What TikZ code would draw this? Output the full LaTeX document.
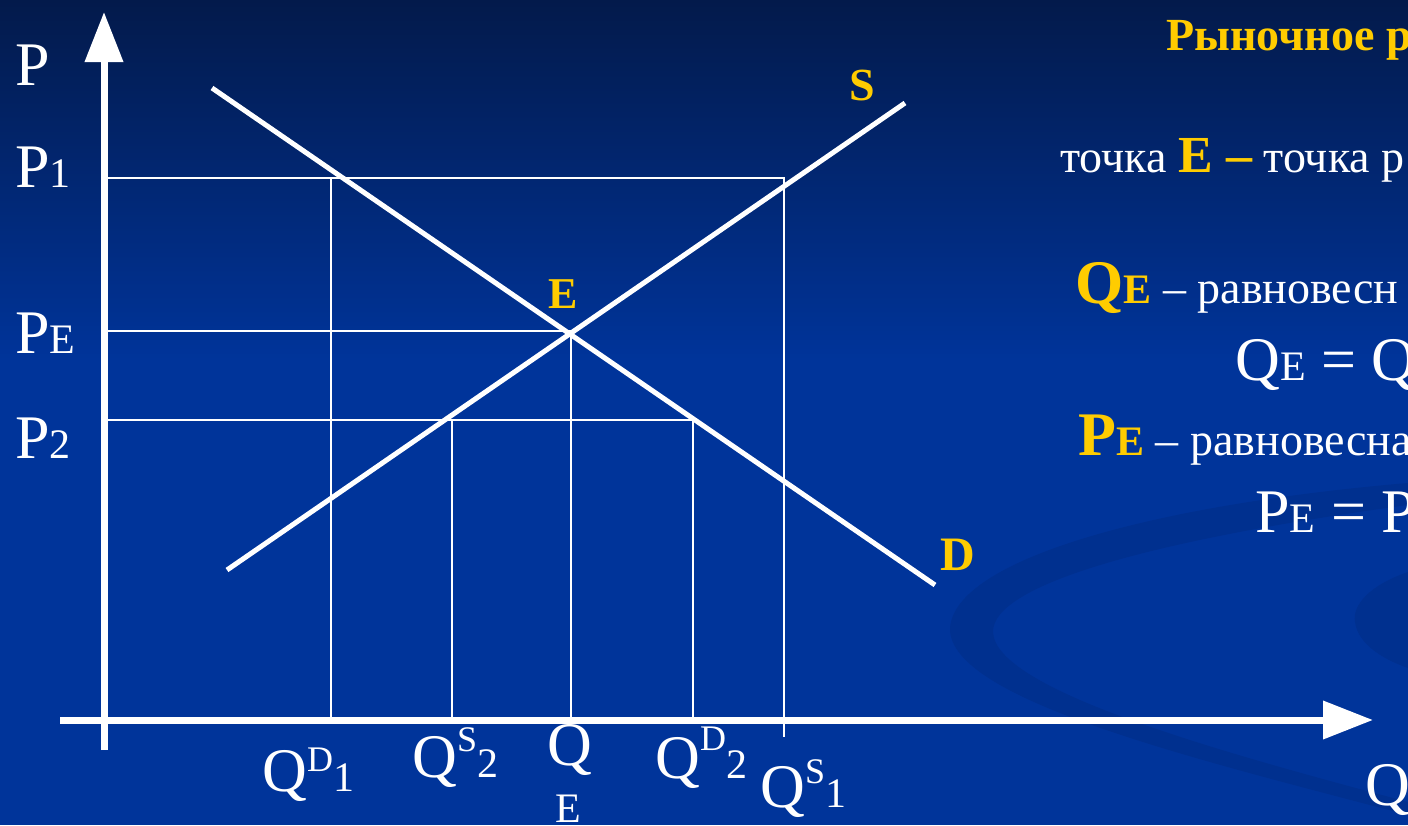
\documentclass[tikz,border=0pt]{standalone}
\usepackage{fontspec}
\setmainfont{Liberation Serif}
\usetikzlibrary{arrows.meta,positioning}
\definecolor{slidetop}{HTML}{031A4B}
\definecolor{slideblue}{HTML}{00349A}
\definecolor{swirl}{HTML}{00308F}
\definecolor{accent}{HTML}{FFCC00}
% small index at the baseline, small raised index
\newcommand{\idx}[1]{{\fontsize{21}{24}\selectfont #1}}
\newcommand{\upidx}[2][12pt]{\raisebox{#1}{\fontsize{18}{20}\selectfont #2}}

\begin{document}
\begin{tikzpicture}[x=0.5pt,y=-0.5pt,
  axis/.style={white,line width=3.5pt,-{Triangle[length=25pt,width=18.5pt]}},
  curve/.style={white,line width=2.5pt},
  guide/.style={white,line width=1pt},
  lbl/.style={text=white,font=\fontsize{31}{36}\selectfont,inner sep=0pt,anchor=base west},
  tag/.style={text=accent,font=\bfseries\fontsize{23}{28}\selectfont,inner sep=0pt,anchor=base west},
  txt/.style={text=white,font=\fontsize{23}{28}\selectfont,inner sep=0pt,anchor=base west}]
\useasboundingbox (0,0) rectangle (1408,825);
% background
\shade[top color=slidetop,bottom color=slideblue] (0,0) rectangle (1408,360);
\fill[slideblue] (0,359) rectangle (1408,825);
\fill[swirl] (1408,483) .. controls (1150,505) and (955,560) .. (950,628)
  .. controls (948,700) and (1200,760) .. (1408,815) -- (1408,802)
  .. controls (1220,752) and (995,690) .. (993,632)
  .. controls (992,585) and (1150,540) .. (1408,505) -- cycle;
\fill[swirl] (1408,572) .. controls (1370,585) and (1352,605) .. (1355,622)
  .. controls (1358,645) and (1385,660) .. (1408,668) -- cycle;

% points
\coordinate (O) at (104,720);
\coordinate (dtop) at (212,88);
\coordinate (dbot) at (935,585);
\coordinate (sbot) at (227,570);
\coordinate (stop) at (905,103);
\coordinate (eq) at (571,331);

% guide lines
\draw[guide] (107,178) -- (784,178) -- (784,737);
\draw[guide] (331,178) -- (331,720);
\draw[guide] (107,331) -- (eq) -- (eq |- O);
\draw[guide] (107,420) -- (693,420) -- (693,720);
\draw[guide] (452,420) -- (452,720);

% axes
\draw[axis] (104,750) -- (104,12);
\draw[axis] (60,720) -- (1373,720);

% demand and supply
\draw[curve] (dtop) -- (dbot);
\draw[curve] (sbot) -- (stop);

\node[tag] (sLbl) at (849,100) {S};
\node[tag,font=\bfseries\fontsize{24}{28}\selectfont] (dLbl) at (940,570) {D};
\node[tag,font=\bfseries\fontsize{22}{28}\selectfont] (eLbl) at (548,308) {E};

% price axis
\node[lbl] (pAxis) at (15,85) {P};
\node[lbl] (pOne) at (15,187) {P\idx{1}};
\node[lbl] (pEq) at (15,353) {P\idx{E}};
\node[lbl] (pTwo) at (15,458) {P\idx{2}};

% quantity axis
\node[lbl] (qdOne) at (262,791) {Q\upidx[10pt]{D}\idx{1}};
\node[lbl] (qsTwo) at (412,777) {Q\upidx[13pt]{S}\idx{2}};
\node[lbl] (qEq) at (547,765) {Q};
\node[lbl,font=\fontsize{21}{24}\selectfont] (qEqIdx) at (555,822) {E};
\node[lbl] (qdTwo) at (655,778) {Q\upidx[14pt]{D}\idx{2}};
\node[lbl] (qsOne) at (760,807) {Q\upidx{S}\idx{1}};
\node[lbl] (qAxis) at (1365,805) {Q};

% text column
\node[tag,font=\bfseries\fontsize{23}{28}\selectfont] (title) at (1166,50) {Рыночное р};
\node[txt] (defE) at (1060,172) {точка {\color{accent}\bfseries\fontsize{26}{28}\selectfont E –} точка р};
\node[txt] (defQ) at (1075,303)
  {{\color{accent}\bfseries\fontsize{31}{36}\selectfont Q\idx{E}} – равновесн};
\node[lbl] (eqQ) at (1235,380) {Q\idx{E} = Q};
\node[txt] (defP) at (1078,455)
  {{\color{accent}\bfseries\fontsize{31}{36}\selectfont P\idx{E}} – равновесна};
\node[lbl] (eqP) at (1255,532) {P\idx{E} = P};
\end{tikzpicture}
\end{document}
